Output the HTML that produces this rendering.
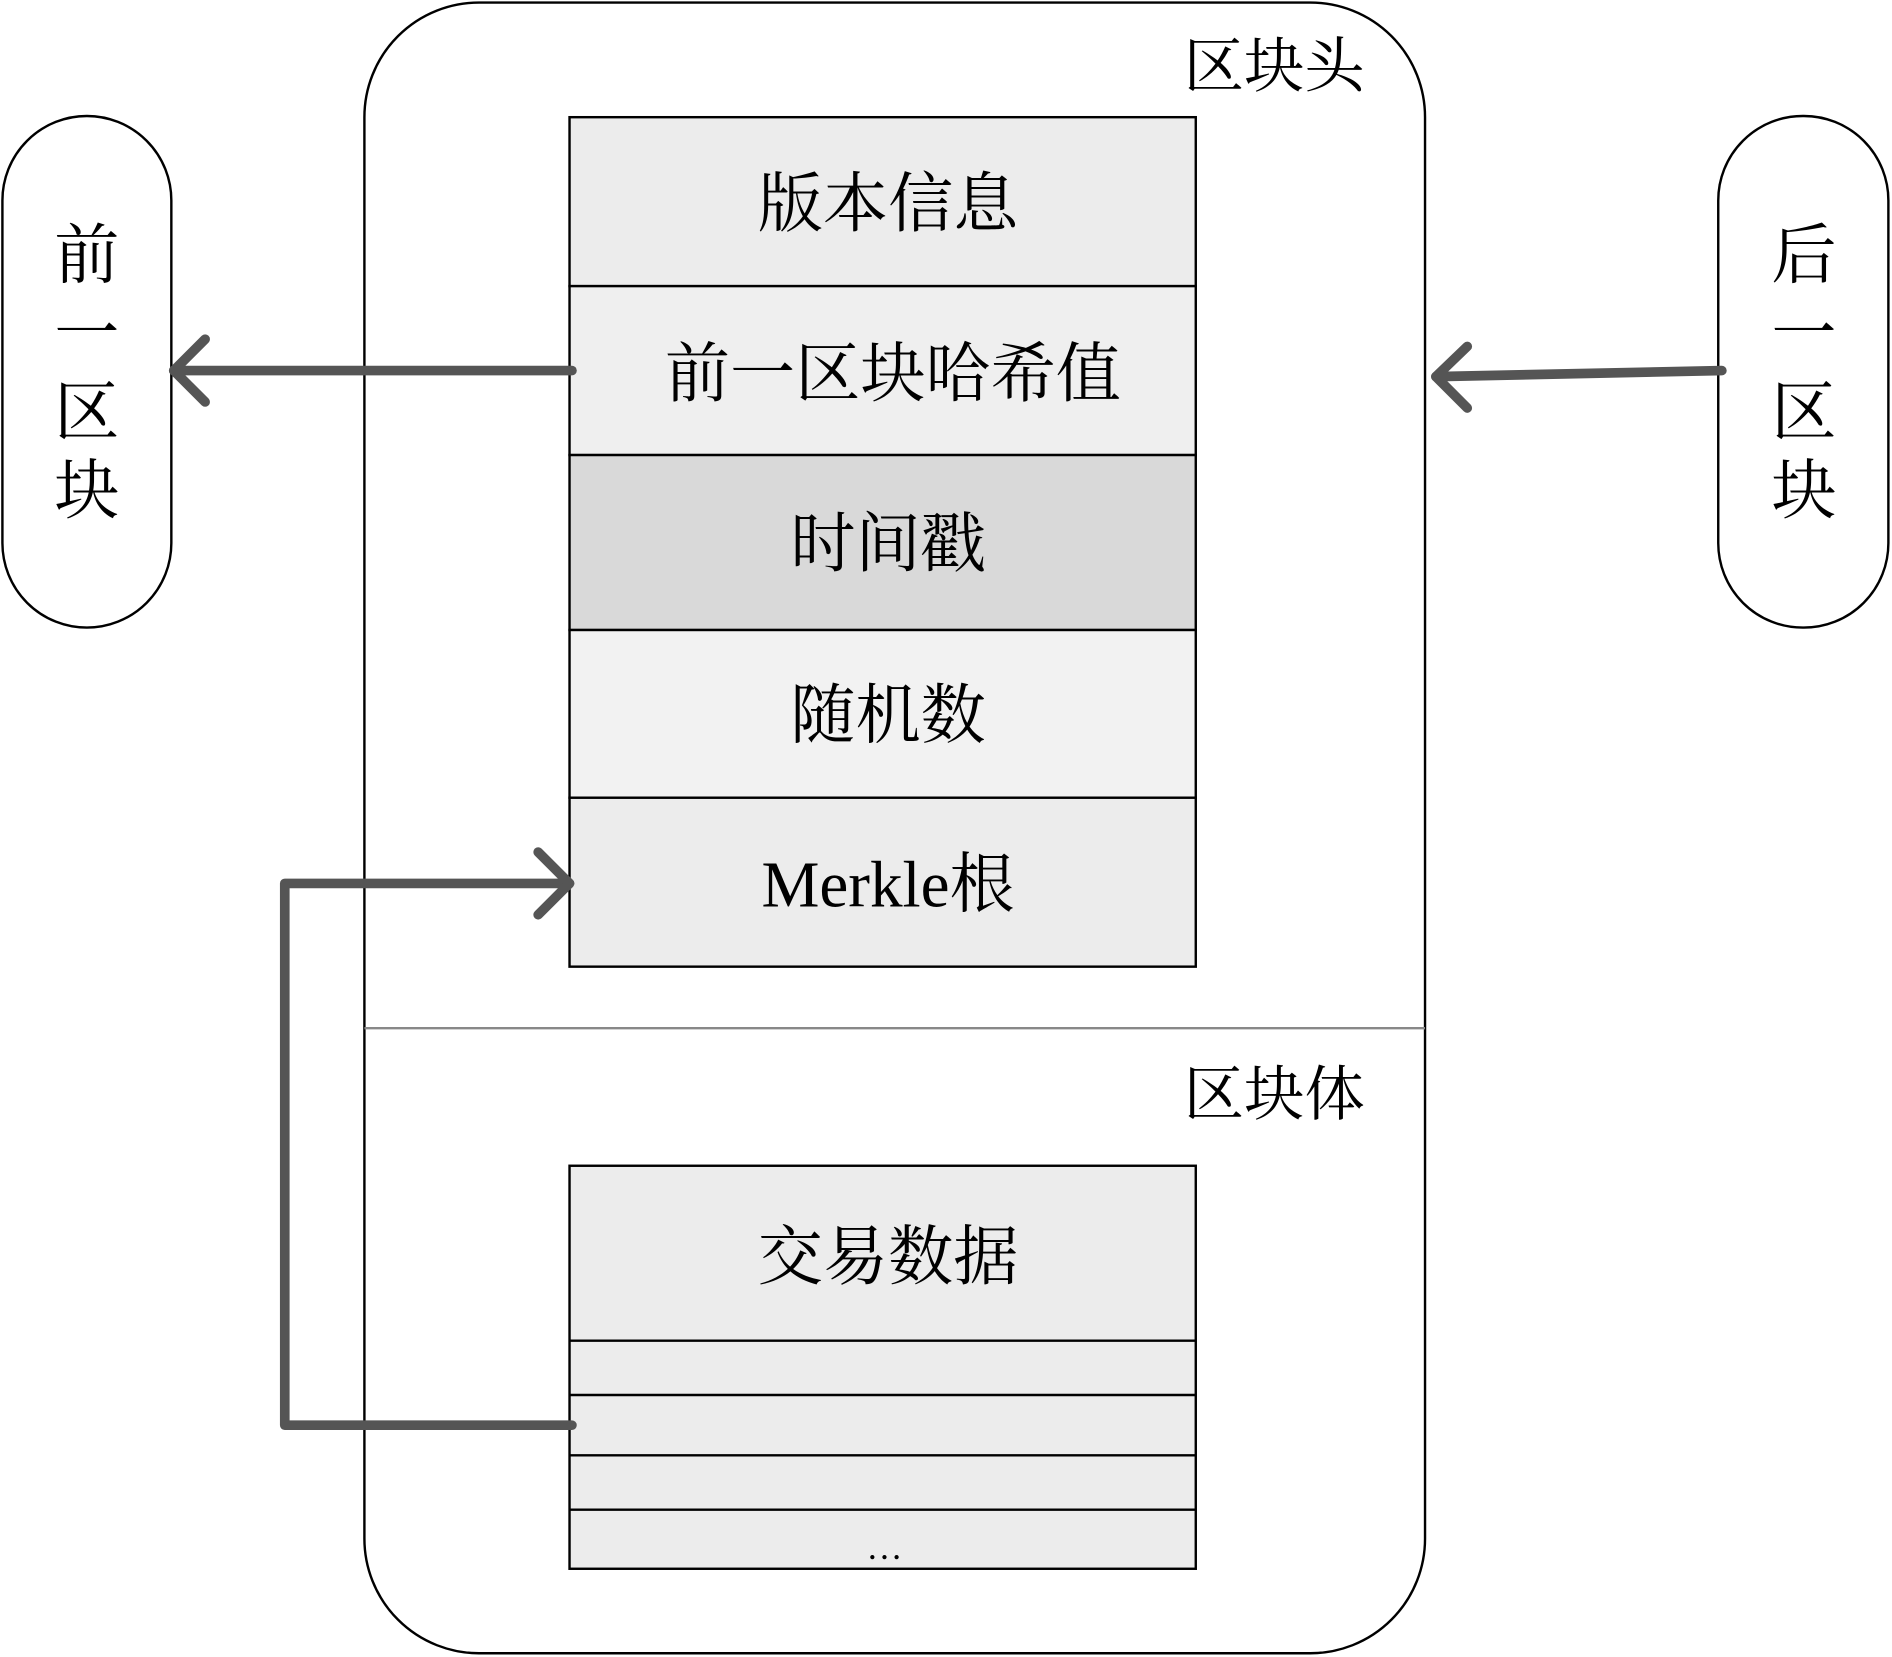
<!DOCTYPE html>
<html><head><meta charset="utf-8"><style>html,body{margin:0;padding:0;background:#fff}svg{display:block}</style></head>
<body>
<svg width="1892" height="1657" viewBox="0 0 1568 1373" xmlns="http://www.w3.org/2000/svg" font-family="'Liberation Serif','Noto Serif CJK SC',serif">
<rect x="302" y="2" width="879" height="1368" rx="95" fill="#fff" stroke="#000" stroke-width="2"/>
<line x1="302" y1="852" x2="1181" y2="852" stroke="#888" stroke-width="2"/>
<text x="1056" y="72" font-size="50" text-anchor="middle">区块头</text>
<text x="1056" y="924" font-size="50" text-anchor="middle">区块体</text>
<g stroke="#000" stroke-width="2">
<rect x="472" y="97" width="519" height="140" fill="#ececec"/>
<rect x="472" y="237" width="519" height="140" fill="#efefef"/>
<rect x="472" y="377" width="519" height="145" fill="#d9d9d9"/>
<rect x="472" y="522" width="519" height="139" fill="#f2f2f2"/>
<rect x="472" y="661" width="519" height="140" fill="#ececec"/>
<rect x="472" y="966" width="519" height="334" fill="#ececec"/>
<line x1="472" y1="1111" x2="991" y2="1111"/>
<line x1="472" y1="1156" x2="991" y2="1156"/>
<line x1="472" y1="1206" x2="991" y2="1206"/>
<line x1="472" y1="1251" x2="991" y2="1251"/>
</g>
<g font-size="54" text-anchor="middle">
<text x="736" y="187">版本信息</text>
<text x="740" y="328">前一区块哈希值</text>
<text x="736" y="469">时间戳</text>
<text x="736" y="611">随机数</text>
<text x="736" y="751">Merkle根</text>
<text x="736" y="1060">交易数据</text>
</g>
<text x="733" y="1292" font-size="30" text-anchor="middle">…</text>
<rect x="2" y="96" width="140" height="424" rx="70" fill="#fff" stroke="#000" stroke-width="2"/>
<rect x="1424" y="96" width="141" height="424" rx="70" fill="#fff" stroke="#000" stroke-width="2"/>
<g font-size="54" text-anchor="middle">
<text x="72" y="230">前</text><text x="72" y="295">一</text><text x="72" y="360">区</text><text x="72" y="425">块</text>
<text x="1495" y="230">后</text><text x="1495" y="295">一</text><text x="1495" y="360">区</text><text x="1495" y="425">块</text>
</g>
<g stroke="#555" stroke-width="8" fill="none" stroke-linecap="round" stroke-linejoin="round">
<line x1="474" y1="307" x2="144" y2="307"/>
<polyline points="170,281 144,307 170,333"/>
<line x1="1427" y1="307" x2="1190" y2="312"/>
<polyline points="1216,287 1190,312 1216,338"/>
<polyline points="474,1181 236,1181 236,732 472,732"/>
<polyline points="446,706 472,732 446,758"/>
</g>
</svg>
</body></html>
